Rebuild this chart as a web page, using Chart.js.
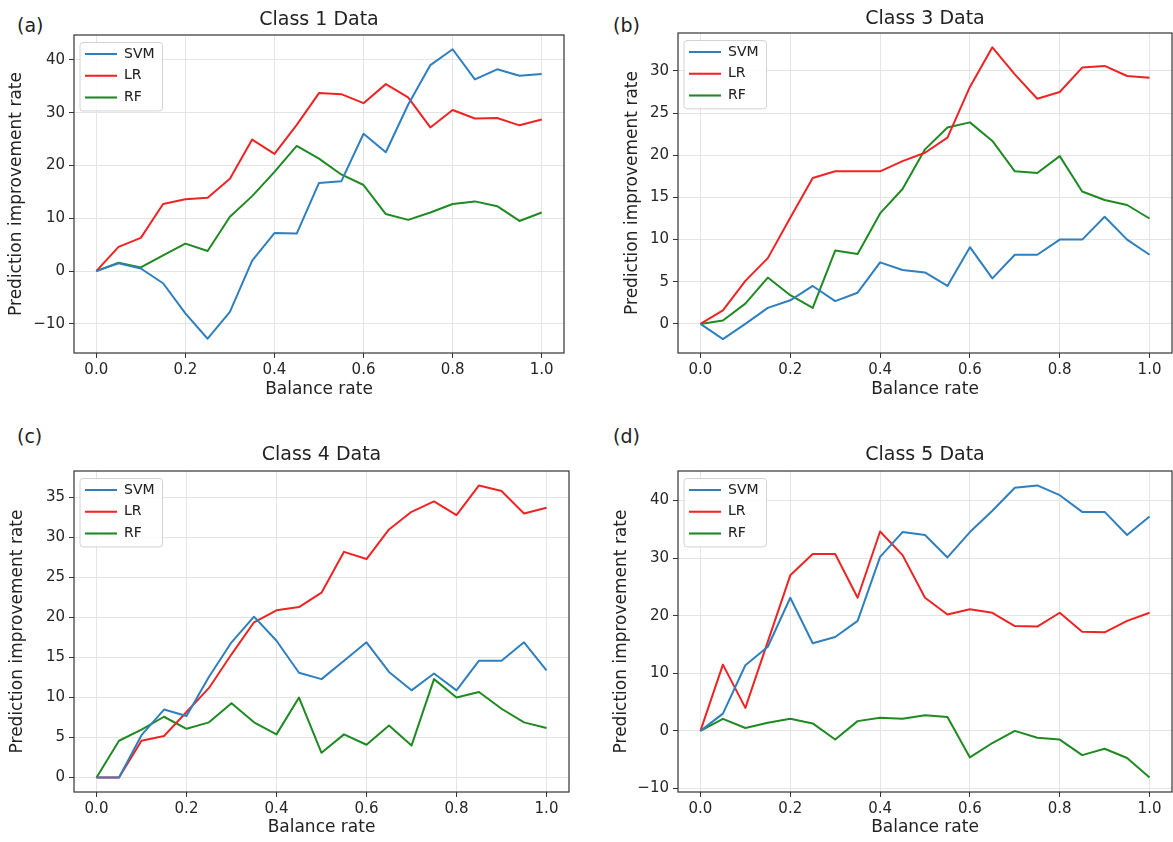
<!DOCTYPE html>
<html>
<head>
<meta charset="utf-8">
<script src="https://cdn.jsdelivr.net/npm/chart.js@4.4.0/dist/chart.umd.min.js"></script>
<style>
  body { margin: 0; background: #fff; width: 1173px; height: 842px; position: relative; overflow: hidden; font-family: 'DejaVu Sans', sans-serif; }
  canvas { position: absolute; }
  .tag { position: absolute; font-size: 19px; line-height: 1; color: #222; }
</style>
</head>
<body>
<div class="tag" style="left:17px;top:16px">(a)</div>
<div class="tag" style="left:613px;top:16px">(b)</div>
<div class="tag" style="left:17px;top:427px">(c)</div>
<div class="tag" style="left:613px;top:427px">(d)</div>
<canvas id="c1" width="586" height="421" style="left:0;top:0"></canvas>
<canvas id="c3" width="587" height="421" style="left:586px;top:0"></canvas>
<canvas id="c4" width="586" height="421" style="left:0;top:421px"></canvas>
<canvas id="c5" width="587" height="421" style="left:586px;top:421px"></canvas>
<script>
//data
const balanceRate = [0, 0.05, 0.1, 0.15, 0.2, 0.25, 0.3, 0.35, 0.4, 0.45, 0.5, 0.55, 0.6, 0.65, 0.7, 0.75, 0.8, 0.85, 0.9, 0.95, 1.0]
const xTicks = [0, 0.2, 0.4, 0.6, 0.8, 1.0]

// Class 1
const class1Svm = [0, 1.5, 0.5, -2.3, -8, -12.8, -7.7, 2, 7.2, 7.1, 16.7, 17, 26, 22.5, 31.5, 39, 42, 36.3, 38.2, 37, 37.3]
const class1Lr = [0, 4.6, 6.3, 12.7, 13.6, 13.9, 17.5, 24.9, 22.2, 27.7, 33.7, 33.5, 31.8, 35.4, 32.9, 27.2, 30.5, 28.9, 29, 27.6, 28.7]
const class1Rf = [0, 1.6, 0.7, 3, 5.2, 3.8, 10.3, 14.2, 18.8, 23.7, 21.3, 18.3, 16.3, 10.8, 9.7, 11.1, 12.7, 13.2, 12.3, 9.5, 11.1]
const class1YTicks = [-10, 0, 10, 20, 30, 40]

// Class 3
const class3Svm = [0, -1.8, 0, 1.9, 2.8, 4.5, 2.7, 3.7, 7.3, 6.4, 6.1, 4.5, 9.1, 5.4, 8.2, 8.2, 10, 10, 12.7, 10, 8.2]
const class3Lr = [0, 1.6, 5.1, 7.8, 12.6, 17.3, 18.1, 18.1, 18.1, 19.3, 20.3, 22.1, 28.1, 32.8, 29.6, 26.7, 27.5, 30.4, 30.6, 29.4, 29.2]
const class3Rf = [0, 0.4, 2.4, 5.5, 3.4, 1.9, 8.7, 8.3, 13.1, 16, 20.7, 23.3, 23.9, 21.7, 18.1, 17.9, 19.9, 15.7, 14.7, 14.1, 12.5]
const class3YTicks = [0, 5, 10, 15, 20, 25, 30]

// Class 4
const class4Svm = [0, 0, 5.3, 8.5, 7.7, 12.6, 16.9, 20.1, 17.1, 13.1, 12.3, 14.6, 16.9, 13.2, 10.9, 13, 10.9, 14.6, 14.6, 16.9, 13.4]
const class4Lr = [0, 0, 4.6, 5.2, 8.2, 11.2, 15.4, 19.4, 20.9, 21.3, 23.1, 28.2, 27.3, 31, 33.2, 34.5, 32.8, 36.5, 35.8, 33, 33.7]
const class4Rf = [0, 4.6, 6, 7.6, 6.1, 6.9, 9.3, 6.9, 5.4, 10, 3.1, 5.4, 4.1, 6.5, 4, 12.3, 10, 10.7, 8.6, 6.9, 6.2]
const class4YTicks = [0, 5, 10, 15, 20, 25, 30, 35]

// Class 5
const class5Svm = [0, 3, 11.4, 14.6, 23.1, 15.2, 16.3, 19.1, 30.2, 34.5, 34, 30.1, 34.5, 38.2, 42.2, 42.6, 40.9, 38, 38, 34, 37.2]
const class5Lr = [0, 11.5, 4, 15.5, 27, 30.7, 30.7, 23.1, 34.6, 30.5, 23.1, 20.2, 21.1, 20.5, 18.2, 18.1, 20.5, 17.2, 17.1, 19.1, 20.5]
const class5Rf = [0, 2.1, 0.5, 1.4, 2.1, 1.3, -1.5, 1.7, 2.3, 2.1, 2.7, 2.4, -4.6, -2.1, 0, -1.2, -1.5, -4.2, -3.1, -4.7, -8.1]
const class5YTicks = [-10, 0, 10, 20, 30, 40]

/////////////////////////////////////////////////////////////
//setup
/////////////////////////////////////////////////////////////
Chart.defaults.font.family = "'DejaVu Sans', sans-serif"
Chart.defaults.color = '#262626'

const colSvm = '#2f7fbf'
const colLr = '#ee2424'
const colRf = '#1f8a22'
const gridCol = '#e4e4e4'

// legend frame + axes box, matplotlib style
const mplBox = {
    id: 'mplBox',
    afterLayout(chart) {
        // legend in chartArea gets its top reset to 0, put it back inside the axes
        const a = chart.chartArea
        const lg = chart.legend
        lg.left = a.left + 3.3
        lg.right = a.right
        lg.top = a.top + 4.3
        lg.bottom = a.bottom
    },
    beforeDatasetsDraw(chart) {
        const lg = chart.legend
        const boxes = lg.legendHitBoxes
        if (!boxes || !boxes.length) return
        const ctx = chart.ctx
        const x0 = Math.min(...boxes.map(b => b.left)) - 5
        const y0 = Math.min(...boxes.map(b => b.top)) - 4.5
        const x1 = Math.max(...boxes.map(b => b.left + b.width)) + 8
        const y1 = Math.max(...boxes.map(b => b.top + b.height)) + 6.5
        ctx.save()
        ctx.beginPath()
        ctx.roundRect(x0, y0, x1 - x0, y1 - y0, 3)
        ctx.fillStyle = 'rgba(255,255,255,0.85)'
        ctx.fill()
        ctx.strokeStyle = '#d2d2d2'
        ctx.lineWidth = 1
        ctx.stroke()
        ctx.restore()
        lg.draw()
    },
    afterDraw(chart) {
        const {ctx, chartArea: a} = chart
        ctx.save()
        ctx.strokeStyle = '#333'
        ctx.lineWidth = 1.2
        ctx.strokeRect(a.left, a.top, a.right - a.left, a.bottom - a.top)
        ctx.restore()
    }
}

function pts(arr) {
    return arr.map((v, i) => ({x: balanceRate[i], y: v}))
}

function line(label, arr, color) {
    return {
        label: label,
        data: pts(arr),
        borderColor: color,
        backgroundColor: color,
        borderWidth: 2,
        pointRadius: 0,
        tension: 0,
        fill: false,
        borderJoinStyle: 'round'
    }
}

function makePanel(id, p) {
    const config = {
        type: 'line',
        data: {
            datasets: [
                line('SVM', p.svm, colSvm),
                line('LR', p.lr, colLr),
                line('RF', p.rf, colRf)
            ]
        },
        plugins: [mplBox],
        options: {
            responsive: false,
            animation: false,
            events: [],
            layout: {padding: {left: 0, right: p.rightPad, top: 0, bottom: 0}},
            plugins: {
                tooltip: {enabled: false},
                title: {
                    display: true,
                    text: p.title,
                    fullSize: false,
                    color: '#222',
                    font: {size: 19, weight: 'normal'},
                    padding: {top: p.titleTop, bottom: p.titleBottom}
                },
                legend: {
                    position: 'chartArea',
                    align: 'start',
                    labels: {
                        usePointStyle: true,
                        pointStyle: 'line',
                        pointStyleWidth: 32,
                        padding: 7.7,
                        color: '#222',
                        font: {size: 14}
                    }
                }
            },
            scales: {
                x: {
                    type: 'linear',
                    min: -0.05,
                    max: 1.05,
                    afterBuildTicks: s => { s.ticks = xTicks.map(v => ({value: v})) },
                    afterFit: s => { s.height = p.xHeight },
                    grid: {color: gridCol, lineWidth: 1, tickColor: '#333', tickLength: 5},
                    border: {display: false},
                    ticks: {
                        font: {size: 15},
                        padding: 3,
                        maxRotation: 0,
                        autoSkip: false,
                        callback: v => v.toFixed(1)
                    },
                    title: {
                        display: true,
                        text: 'Balance rate',
                        color: '#222',
                        font: {size: 17},
                        padding: {top: 0, bottom: p.xTitlePad}
                    }
                },
                y: {
                    min: p.yMin,
                    max: p.yMax,
                    afterBuildTicks: s => { s.ticks = p.yTicks.map(v => ({value: v})) },
                    afterFit: s => { s.width = p.yWidth },
                    grid: {color: gridCol, lineWidth: 1, tickColor: '#333', tickLength: 5},
                    border: {display: false},
                    ticks: {
                        font: {size: 15},
                        padding: 4,
                        autoSkip: false,
                        callback: v => (v < 0 ? '\u2212' + Math.abs(v) : String(v))
                    },
                    title: {
                        display: true,
                        text: 'Prediction improvement rate',
                        color: '#222',
                        font: {size: 17},
                        padding: {top: p.yTitlePad, bottom: 0}
                    }
                }
            }
        }
    }
    return new Chart(document.getElementById(id), config)
}

// render
const chart1 = makePanel('c1', {
    title: 'Class 1 Data', svm: class1Svm, lr: class1Lr, rf: class1Rf,
    yTicks: class1YTicks, yMin: -15.5, yMax: 44.7,
    yWidth: 74, rightPad: 22, titleTop: 8.6, titleBottom: 3.6,
    xHeight: 68, xTitlePad: 20.8, yTitlePad: 6.8
})
const chart3 = makePanel('c3', {
    title: 'Class 3 Data', svm: class3Svm, lr: class3Lr, rf: class3Rf,
    yTicks: class3YTicks, yMin: -3.45, yMax: 34.5,
    yWidth: 92, rightPad: 1, titleTop: 8.1, titleBottom: 2.1,
    xHeight: 68, xTitlePad: 20.8, yTitlePad: 36.8
})
const chart4 = makePanel('c4', {
    title: 'Class 4 Data', svm: class4Svm, lr: class4Lr, rf: class4Rf,
    yTicks: class4YTicks, yMin: -1.8, yMax: 38.3,
    yWidth: 74, rightPad: 17, titleTop: 22.6, titleBottom: 4.6,
    xHeight: 50, xTitlePad: 3.8, yTitlePad: 7.8
})
const chart5 = makePanel('c5', {
    title: 'Class 5 Data', svm: class5Svm, lr: class5Lr, rf: class5Rf,
    yTicks: class5YTicks, yMin: -10.6, yMax: 45.1,
    yWidth: 92, rightPad: 1, titleTop: 22.6, titleBottom: 4.6,
    xHeight: 50, xTitlePad: 3.8, yTitlePad: 25.8
})
</script>
</body>
</html>
